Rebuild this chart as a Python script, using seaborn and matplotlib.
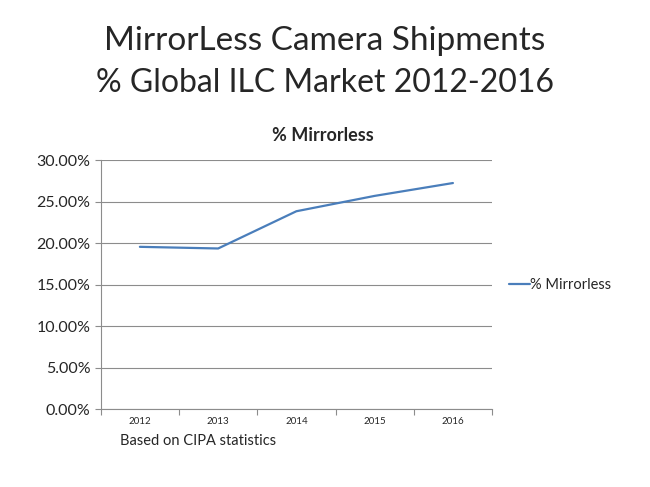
import matplotlib.pyplot as plt
import matplotlib.ticker as mticker
import seaborn as sns
import pandas as pd

# Data
years = ['2012', '2013', '2014', '2015', '2016']
mirrorless_share = [19.56, 19.36, 23.85, 25.7, 27.25]
series_name = '% Mirrorless'

df = pd.DataFrame({'year': years, 'share': mirrorless_share})

sns.set_theme(style="white")
plt.rcParams['font.family'] = ['Lato', 'DejaVu Sans']

fig = plt.figure(figsize=(6.5, 4.87), dpi=100)
ax = fig.add_axes([0.155, 0.160, 0.602, 0.511])

sns.lineplot(data=df, x='year', y='share', ax=ax, color='#4A7EBB',
             linewidth=1.6, label=series_name, sort=False)

# Axes styling
ax.set_ylim(0, 30)
ax.set_xlim(-0.5, len(years) - 0.5)
ax.yaxis.set_major_locator(mticker.MultipleLocator(5))
ax.yaxis.set_major_formatter(mticker.FuncFormatter(lambda v, p: f'{v:.2f}%'))
ax.grid(axis='y', color='#8c8c8c', linewidth=0.8)
ax.set_axisbelow(True)

for s in ['top', 'right']:
    ax.spines[s].set_visible(False)
for s in ['left', 'bottom']:
    ax.spines[s].set_color('#8c8c8c')
    ax.spines[s].set_linewidth(0.8)

ax.set_xticks(range(len(years)))
ax.set_xticklabels(years)
ax.xaxis.set_minor_locator(mticker.FixedLocator([i - 0.5 for i in range(len(years) + 1)]))
ax.tick_params(axis='x', which='major', length=0, labelsize=7, pad=6)
ax.tick_params(axis='x', which='minor', length=4, color='#8c8c8c', width=0.8, bottom=True)
ax.tick_params(axis='y', which='major', length=4, color='#8c8c8c', width=0.8, left=True,
               labelsize=11.5)
ax.set_xlabel('')
ax.set_ylabel('')

# Chart title is centred on the whole chart area (incl. legend), not the plot
ax.set_title('% Mirrorless', fontsize=13, fontweight='bold', pad=14, x=0.568)

leg = ax.legend(loc='center left', bbox_to_anchor=(1.01, 0.5), frameon=False,
                fontsize=10.5, handlelength=1.4, handletextpad=0.05)

fig.text(0.5, 0.915, 'MirrorLess Camera Shipments', ha='center', va='center', fontsize=24)
fig.text(0.5, 0.830, '% Global ILC Market 2012-2016', ha='center', va='center', fontsize=23)
fig.text(0.185, 0.094, 'Based on CIPA statistics', ha='left', va='center', fontsize=10.5)

plt.savefig('out.png', dpi=100)
